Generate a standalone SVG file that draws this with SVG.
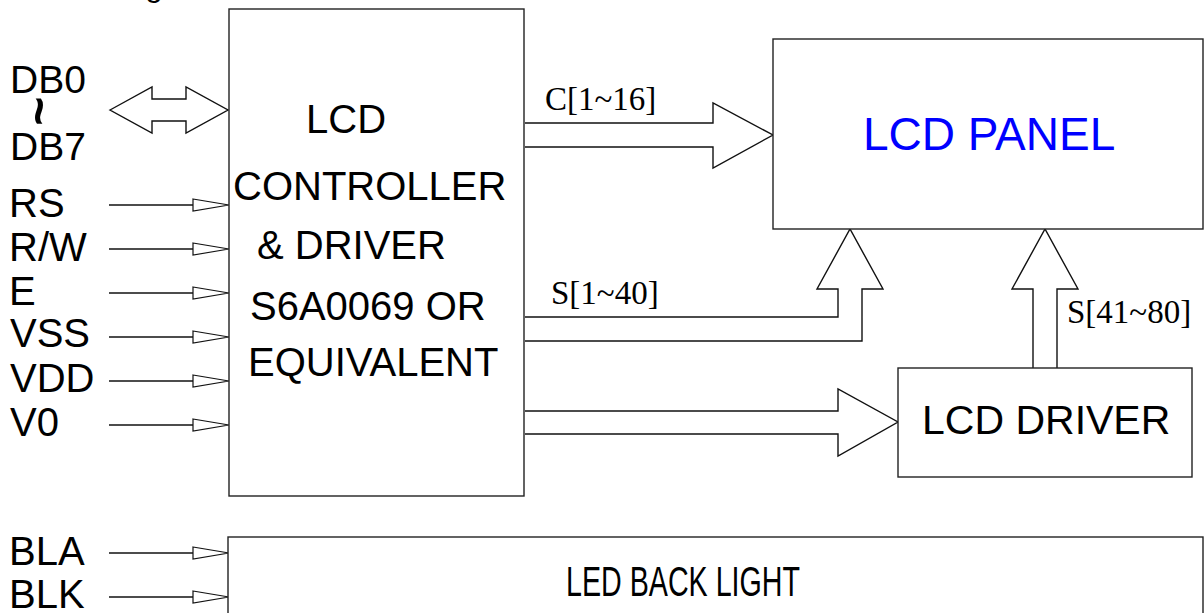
<svg xmlns="http://www.w3.org/2000/svg" width="1204" height="613" viewBox="0 0 1204 613">
<style>
.box{fill:#fff;stroke:#222;stroke-width:1.4}
.ln{fill:none;stroke:#111;stroke-width:1.4}
.bus{fill:#fff;stroke:#111;stroke-width:1.4;stroke-linejoin:miter}
.hd{fill:#fff;stroke:#111;stroke-width:1.2}
.s{font-family:"Liberation Sans",Arial,sans-serif;fill:#000}
.t{font-family:"Liberation Serif","Times New Roman",serif;fill:#000;font-size:33px}
</style>
<rect width="1204" height="613" fill="#fff"/>
<text class="s" x="145" y="-4" font-size="32">g</text>

<g id="connectors">
  <polygon class="bus" points="110,110 152,87 152,99 186,99 186,87 228,110 186,133 186,121 152,121 152,133"/>
  <g id="inputs">
    <line class="ln" x1="109" y1="205" x2="193" y2="205"/><polygon class="hd" points="193,199 229,205 193,211"/>
    <line class="ln" x1="109" y1="249" x2="193" y2="249"/><polygon class="hd" points="193,243 229,249 193,255"/>
    <line class="ln" x1="109" y1="293" x2="193" y2="293"/><polygon class="hd" points="193,287 229,293 193,299"/>
    <line class="ln" x1="109" y1="337" x2="193" y2="337"/><polygon class="hd" points="193,331 229,337 193,343"/>
    <line class="ln" x1="109" y1="381" x2="193" y2="381"/><polygon class="hd" points="193,375 229,381 193,387"/>
    <line class="ln" x1="109" y1="425" x2="193" y2="425"/><polygon class="hd" points="193,419 229,425 193,431"/>
    <line class="ln" x1="109" y1="553" x2="193" y2="553"/><polygon class="hd" points="193,547 229,553 193,559"/>
    <line class="ln" x1="109" y1="597" x2="193" y2="597"/><polygon class="hd" points="193,591 229,597 193,603"/>
  </g>
  <path class="bus" d="M525,123 H713 V103 L773,135 L713,168 V147 H525"/>
  <path class="bus" d="M525,317 H838 V289 H817 L850,229 L883,289 H862 V341 H525"/>
  <path class="bus" d="M1033,368 V289 H1012 L1045,229 L1078,289 H1057 V368"/>
  <path class="bus" d="M525,411 H838 V389 L898,422 L838,456 V434 H525"/>
  <text class="t" x="545" y="110">C[1~16]</text>
  <text class="t" x="551" y="304">S[1~40]</text>
  <text class="t" x="1067" y="323">S[41~80]</text>
</g>

<g id="labels">
  <text class="s" x="10" y="93" font-size="39">DB0</text>
  <text class="s" x="0" y="0" font-size="50" font-weight="bold" transform="translate(39,111) rotate(90)" text-anchor="middle" dominant-baseline="central">~</text>
  <text class="s" x="10" y="160" font-size="39">DB7</text>
  <text class="s" x="9" y="217" font-size="40">RS</text>
  <text class="s" x="9" y="261" font-size="40">R/W</text>
  <text class="s" x="9" y="305" font-size="40">E</text>
  <text class="s" x="10" y="347" font-size="40">VSS</text>
  <text class="s" x="10" y="392" font-size="40">VDD</text>
  <text class="s" x="10" y="436" font-size="40">V0</text>
  <text class="s" x="9" y="565" font-size="40">BLA</text>
  <text class="s" x="9" y="608" font-size="40">BLK</text>
</g>

<g id="controller">
  <rect class="box" x="229" y="9" width="295" height="487"/>
  <text class="s" x="306" y="133" font-size="40">LCD</text>
  <text class="s" x="233" y="200" font-size="40">CONTROLLER</text>
  <text class="s" x="257" y="259" font-size="40">&amp; DRIVER</text>
  <text class="s" x="250" y="320" font-size="40">S6A0069 OR</text>
  <text class="s" x="248" y="376" font-size="40">EQUIVALENT</text>
</g>

<g id="lcd-panel">
  <rect class="box" x="773" y="39" width="430" height="190"/>
  <text class="s" x="863" y="150" font-size="46" style="fill:#0000ff">LCD PANEL</text>
</g>

<g id="lcd-driver">
  <rect class="box" x="898" y="368" width="294" height="109"/>
  <text class="s" x="922" y="434" font-size="41">LCD DRIVER</text>
</g>

<g id="backlight">
  <rect class="box" x="228" y="537" width="975" height="90"/>
  <text class="s" x="566" y="596" font-size="42" textLength="234" lengthAdjust="spacingAndGlyphs">LED BACK LIGHT</text>
</g>
</svg>
